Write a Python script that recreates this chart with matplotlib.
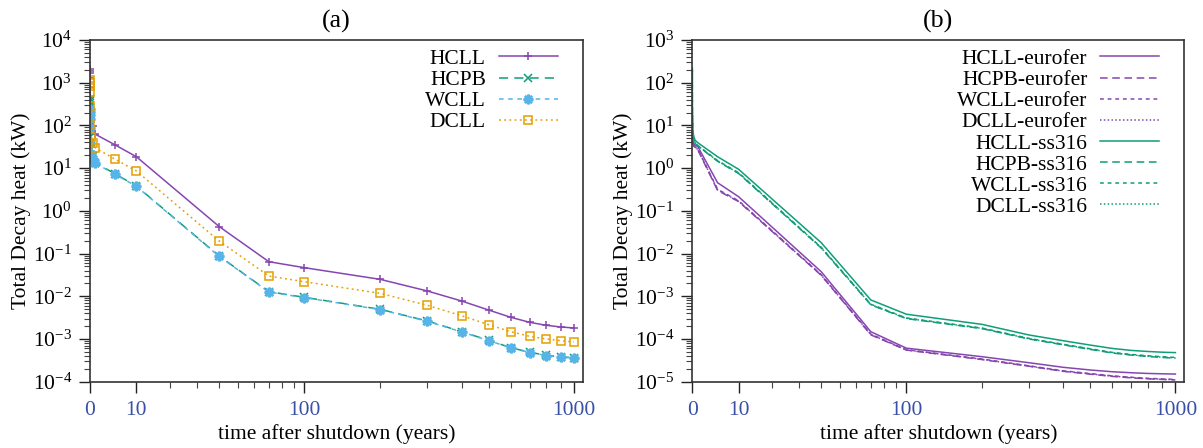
import numpy as np
import matplotlib
matplotlib.use("Agg")
import matplotlib.pyplot as plt
from matplotlib.ticker import LogLocator, NullFormatter, FixedLocator

plt.rcParams['font.family'] = ['Liberation Serif', 'DejaVu Serif']
plt.rcParams['mathtext.fontset'] = 'custom'
plt.rcParams['mathtext.rm'] = 'Liberation Serif'
plt.rcParams['mathtext.default'] = 'regular'
plt.rcParams['axes.unicode_minus'] = False
plt.rcParams['font.size'] = 15.5

# cooling times in years (first few are seconds..months, all sit at ~0)
times = [3.2e-8, 1e-5, 1.1e-4, 2.7e-3, 0.019, 0.083, 0.25, 0.5,
         1, 5, 10, 40, 70, 100, 200, 300, 400, 500, 600, 700, 800, 900, 1000]

# panel (a): total decay heat (kW)
hcll = [2100, 1900, 1650, 1300, 800, 350, 150, 95,
        62, 34.8, 18.5, 0.43, 0.0645, 0.0467, 0.0249, 0.0133, 0.00774,
        0.00476, 0.00321, 0.00245, 0.00209, 0.00191, 0.00181]
hcpb = [420, 380, 330, 260, 140, 55, 28, 19,
        13.4, 7.29, 3.82, 0.0877, 0.0128, 0.00946, 0.00495, 0.00264, 0.00148,
        0.000931, 0.000625, 0.000488, 0.000415, 0.000379, 0.000365]
wcll = [240, 210, 180, 140, 85, 38, 22, 16,
        13.0, 7.1, 3.75, 0.086, 0.0126, 0.0093, 0.00488, 0.0026, 0.00146,
        0.000918, 0.000617, 0.000482, 0.00041, 0.000375, 0.000361]
dcll = [1150, 1000, 820, 600, 280, 110, 55, 38,
        29.6, 16.1, 8.57, 0.197, 0.0298, 0.0219, 0.0117, 0.00614, 0.0035,
        0.00216, 0.00148, 0.00115, 0.000998, 0.000912, 0.00085]

# panel (b): structural material comparison
hcll_euro = [19, 15, 11, 8, 5.5, 4.3, 3.7, 3.4,
             3.2, 0.456, 0.214, 0.00376, 1.48e-4, 6.1e-5, 3.85e-5, 2.78e-5, 2.17e-5,
             1.88e-5, 1.71e-5, 1.62e-5, 1.56e-5, 1.53e-5, 1.51e-5]
hcpb_euro = [17, 13, 9.5, 7, 5.0, 3.9, 3.3, 3.0,
             2.7, 0.30, 0.165, 0.0031, 1.25e-4, 5.5e-5, 3.3e-5, 2.3e-5, 1.75e-5,
             1.5e-5, 1.33e-5, 1.23e-5, 1.17e-5, 1.13e-5, 1.1e-5]
wcll_euro = [17.5, 13.5, 10, 7.3, 5.1, 4.0, 3.4, 3.1,
             2.8, 0.32, 0.172, 0.0032, 1.3e-4, 5.6e-5, 3.4e-5, 2.35e-5, 1.8e-5,
             1.55e-5, 1.37e-5, 1.27e-5, 1.2e-5, 1.16e-5, 1.13e-5]
dcll_euro = [17.2, 13.2, 9.8, 7.1, 5.0, 3.95, 3.35, 3.05,
             2.75, 0.31, 0.168, 0.00315, 1.27e-4, 5.55e-5, 3.35e-5, 2.32e-5, 1.77e-5,
             1.52e-5, 1.35e-5, 1.25e-5, 1.18e-5, 1.14e-5, 1.11e-5]
hcll_ss = [220, 150, 90, 40, 15, 8, 5.5, 4.5,
           3.94, 1.85, 0.94, 0.018, 8.2e-4, 3.8e-4, 2.2e-4, 1.24e-4, 9.1e-5,
           7.2e-5, 6.0e-5, 5.4e-5, 5.1e-5, 4.9e-5, 4.8e-5]
hcpb_ss = [200, 135, 80, 35, 13, 7, 4.8, 3.8,
           3.3, 1.45, 0.75, 0.0135, 6.3e-4, 3.0e-4, 1.75e-4, 1.0e-4, 7.3e-5,
           5.7e-5, 4.7e-5, 4.2e-5, 3.9e-5, 3.7e-5, 3.55e-5]
wcll_ss = [205, 140, 83, 36, 13.5, 7.2, 5.0, 3.9,
           3.4, 1.5, 0.78, 0.014, 6.5e-4, 3.1e-4, 1.8e-4, 1.03e-4, 7.5e-5,
           5.9e-5, 4.85e-5, 4.35e-5, 4.05e-5, 3.85e-5, 3.7e-5]
dcll_ss = [202, 137, 81, 35.5, 13.2, 7.1, 4.9, 3.85,
           3.35, 1.47, 0.76, 0.0137, 6.4e-4, 3.05e-4, 1.77e-4, 1.01e-4, 7.4e-5,
           5.8e-5, 4.75e-5, 4.25e-5, 3.95e-5, 3.75e-5, 3.6e-5]

purple = '#8646b0'
green = '#109e78'
blue = '#56b4e9'
orange = '#e69f00'
tick_blue = '#3a50a6'

# x axis: log(t + c) so that t=0 is on the axis
C = 22.7
def fwd(x):
    return np.log10(np.asarray(x) + C)
def inv(y):
    return 10.0 ** np.asarray(y) - C

fig = plt.figure(figsize=(12.03, 4.48), dpi=100)
ax1 = fig.add_axes([0.0748, 0.148, 0.4098, 0.7627])
ax2 = fig.add_axes([0.5755, 0.148, 0.4090, 0.7627])


def style_axis(ax, ylo, yhi):
    ax.set_xscale('function', functions=(fwd, inv))
    ax.set_yscale('log')
    ax.set_xlim(0, 1075)
    ax.set_ylim(ylo, yhi)
    ax.xaxis.set_major_locator(FixedLocator([0, 10, 100, 1000]))
    ax.set_xticklabels(['0', '10', '100', '1000'])
    ax.xaxis.set_minor_locator(FixedLocator([20, 30, 40, 50, 60, 70, 80, 90,
                                             200, 300, 400, 500, 600, 700, 800, 900]))
    ax.xaxis.set_minor_formatter(NullFormatter())
    ax.yaxis.set_major_locator(FixedLocator(10.0 ** np.arange(np.log10(ylo), np.log10(yhi) + 1)))
    ax.yaxis.set_minor_locator(LogLocator(base=10, subs=np.arange(2, 10), numticks=30))
    ax.yaxis.set_minor_formatter(NullFormatter())
    ax.tick_params(which='major', direction='out', length=8, width=1, pad=5, colors='#222222')
    ax.tick_params(which='minor', direction='out', length=4, width=0.8, colors='#444444')
    ax.tick_params(axis='x', which='major', labelcolor=tick_blue, pad=6)
    ax.tick_params(axis='y', labelcolor='black')
    for sp in ax.spines.values():
        sp.set_color('#333333')
        sp.set_linewidth(1.2)
    ax.set_xlabel('time after shutdown (years)', labelpad=3)
    ax.set_ylabel('Total Decay heat (kW)', labelpad=1)


style_axis(ax1, 1e-4, 1e4)
style_axis(ax2, 1e-5, 1e3)

leg_kw = dict(loc='upper right', frameon=False, markerfirst=False, handlelength=2.75,
              handletextpad=0.6, labelspacing=0.05, borderaxespad=0.3,
              bbox_to_anchor=(0.98, 1.018))

# (a)
ax1.plot(times, hcll, color=purple, lw=1.1, marker='+', ms=6, mew=1.1, label='HCLL')
ax1.plot(times, hcpb, color=green, lw=1.1, ls=(0, (6, 4)), marker='x', ms=6, mew=1.1, label='HCPB')
ax1.plot(times, wcll, color=blue, lw=1.1, ls=(0, (3, 3)), marker=(8, 2, 0), ms=7, mew=1.8, label='WCLL')
ax1.plot(times, dcll, color=orange, lw=1.1, ls=(0, (1.2, 2.2)), marker='s', ms=5.5, mew=1.1,
         mfc='none', label='DCLL')
ax1.set_title('(a)', pad=9)
ax1.legend(**leg_kw)

# (b)
ax2.plot(times, hcll_euro, color=purple, lw=1.1, label='HCLL-eurofer')
ax2.plot(times, hcpb_euro, color=purple, lw=1.1, ls=(0, (5, 3)), label='HCPB-eurofer')
ax2.plot(times, wcll_euro, color=purple, lw=1.1, ls=(0, (2.5, 2.5)), label='WCLL-eurofer')
ax2.plot(times, dcll_euro, color=purple, lw=1.1, ls=(0, (1, 1.5)), label='DCLL-eurofer')
ax2.plot(times, hcll_ss, color=green, lw=1.1, label='HCLL-ss316')
ax2.plot(times, hcpb_ss, color=green, lw=1.1, ls=(0, (5, 3)), label='HCPB-ss316')
ax2.plot(times, wcll_ss, color=green, lw=1.1, ls=(0, (2.5, 2.5)), label='WCLL-ss316')
ax2.plot(times, dcll_ss, color=green, lw=1.1, ls=(0, (1, 1.5)), label='DCLL-ss316')
ax2.set_title('(b)', pad=9)
ax2.legend(**leg_kw)

fig.savefig('out.png', dpi=100)
